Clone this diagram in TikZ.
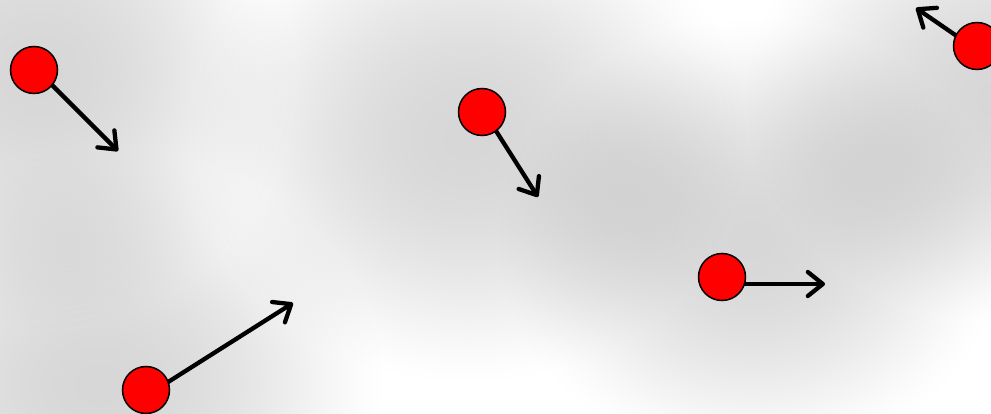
\documentclass[tikz,border=0pt]{standalone}
\usetikzlibrary{arrows.meta}
\tikzset{
  ball/.style={circle, fill=red, draw=black, line width=1.5pt, minimum size=47pt, inner sep=0pt},
  vel/.style={line width=4.3pt, -{Straight Barb[round,length=15pt,width=24pt]}}
}
% soft grey halo: centre x, centre y, x radius, y radius, peak darkness
\newcommand\haloblob[5]{%
  \pgfmathsetmacro\halpha{1-(1-#5)^(1/40)}%
  \foreach \k in {0,...,39}{%
    \pgfmathsetmacro\hs{sqrt(1-((\k+0.5)/40)^(2/3))}%
    \fill[black, fill opacity=\halpha] (#1,#2) ellipse ({\hs*#3pt} and {\hs*#4pt});
  }}
\begin{document}
\begin{tikzpicture}[x=1pt,y=-1pt]
\useasboundingbox (0,0) rectangle (991,414);
\fill[white] (0,0) rectangle (991,414);
\begin{scope}
\clip (0,0) rectangle (991,414);
\haloblob{40}{75}{260}{260}{0.16}
\haloblob{468}{138}{285}{250}{0.19}
\haloblob{752}{240}{260}{225}{0.19}
\haloblob{1000}{100}{260}{225}{0.17}
\haloblob{100}{385}{290}{240}{0.19}
\end{scope}
% arrow start and end points
\coordinate (s1) at (34,67);   \coordinate (t1) at (118,151);
\coordinate (s2) at (977,50);  \coordinate (t2) at (916,8);
\coordinate (s3) at (484,112); \coordinate (t3) at (538,197);
\coordinate (s4) at (722,284); \coordinate (t4) at (825,284);
\coordinate (s5) at (146,396); \coordinate (t5) at (293,303);
\draw[vel] (s1) -- (t1);
\draw[vel] (s2) -- (t2);
\draw[vel] (s3) -- (t3);
\draw[vel] (s4) -- (t4);
\draw[vel] (s5) -- (t5);
\node[ball] (b1) at (34,70) {};
\node[ball] (b2) at (977,46) {};
\node[ball] (b3) at (482,112) {};
\node[ball] (b4) at (722,277) {};
\node[ball] (b5) at (146,390) {};
\end{tikzpicture}
\end{document}
